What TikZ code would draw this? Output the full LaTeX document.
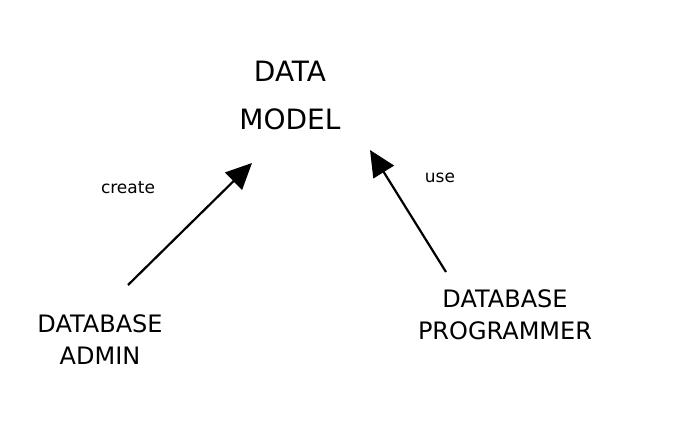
\documentclass[tikz,border=0pt]{standalone}
\usepackage{fontspec}
\setmainfont{DejaVu Sans}
\usetikzlibrary{arrows.meta}
\begin{document}
\begin{tikzpicture}[x=1pt,y=-1pt,
  lbl/.style={font=\fontsize{24}{32}\selectfont, align=center, inner sep=0pt},
  big/.style={font=\fontsize{28}{48}\selectfont, align=center, inner sep=0pt},
  small/.style={font=\fontsize{17}{20}\selectfont, inner sep=0pt},
  conn/.style={line width=2.2pt, -{Triangle[length=26pt,width=24pt]}}]
\useasboundingbox (0,0) rectangle (674,447);
\node[big] (model) at (290,95) {DATA\\MODEL};
\node[lbl] (admin) at (100,340) {DATABASE\\ADMIN};
\node[lbl] (prog) at (505,315) {DATABASE\\PROGRAMMER};
\coordinate (a1) at (128,285);
\coordinate (a2) at (252,163);
\coordinate (p1) at (446,272);
\coordinate (p2) at (370,150);
\draw[conn] (a1) -- (a2);
\draw[conn] (p1) -- (p2);
\node[small] (create) at (128,188) {create};
\node[small] (use) at (440,178) {use};
\end{tikzpicture}
\end{document}
